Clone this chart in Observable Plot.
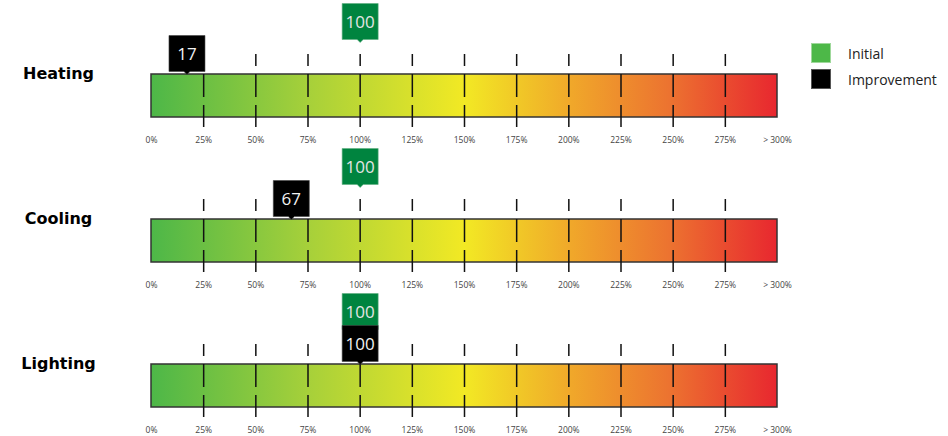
<!DOCTYPE html>
<html>
<head>
<meta charset="utf-8">
<script src="https://cdn.jsdelivr.net/npm/d3@7"></script>
<script src="https://cdn.jsdelivr.net/npm/@observablehq/plot@0.6"></script>
<style>
  body { margin: 0; background: #fff; }
  #wrap { position: relative; width: 948px; height: 436px; }
  #legend { position: absolute; left: 811px; top: 43px; font-family: "Open Sans", sans-serif; font-size: 14px; color: #222; }
  .lg-row { display: flex; align-items: center; height: 20px; margin-bottom: 6px; }
  .lg-sw { width: 18px; height: 18px; margin-right: 17px; box-sizing: content-box; }
</style>
</head>
<body>
<div id="wrap"></div>
<script>
// ---- data ----
const categories = ["Heating", "Cooling", "Lighting"];
const initialValues = [100, 100, 100];
const improvementValues = [17, 67, 100];
const tickValues = [0, 25, 50, 75, 100, 125, 150, 175, 200, 225, 250, 275, 300];
const tickLabels = ["0%", "25%", "50%", "75%", "100%", "125%", "150%", "175%", "200%", "225%", "250%", "275%", "> 300%"];
const scaleExtent = [0, 300];
const seriesNames = ["Initial", "Improvement"];

// ---- derived tables ----
const bars = categories.map(c => ({category: c, x1: scaleExtent[0], x2: scaleExtent[1]}));
const tickTable = categories.flatMap(c => tickValues.map((v, i) => ({category: c, value: v, label: tickLabels[i]})));
const innerTicks = tickTable.filter(d => d.value > scaleExtent[0] && d.value < scaleExtent[1]);
const initialTable = categories.map((c, i) => ({category: c, value: initialValues[i]}));
const improvementTable = categories.map((c, i) => ({category: c, value: improvementValues[i]}));

// ---- styles ----
const colors = {initial: "#00843f", improvement: "#000000", legendInitial: "#4db848"};
const callout = {
  draw(ctx) {
    const w = 18, h = 18, p = 3;
    ctx.moveTo(-w, -h); ctx.lineTo(w, -h); ctx.lineTo(w, h);
    ctx.lineTo(p, h); ctx.lineTo(0, h + p); ctx.lineTo(-p, h);
    ctx.lineTo(-w, h); ctx.closePath();
  }
};

const chart = Plot.plot({
  width: 948,
  height: 436,
  marginLeft: 151,
  marginRight: 171,
  marginTop: 0,
  marginBottom: 1,
  style: {fontFamily: "Open Sans, sans-serif", background: "white", overflow: "visible"},
  x: {domain: scaleExtent, axis: null},
  fy: {domain: categories, axis: null, padding: 0},
  marks: [
    Plot.text(categories, {
      fy: d => d, text: d => d, frameAnchor: "top-left", dx: -93, dy: 73,
      textAnchor: "middle", lineAnchor: "middle",
      fontFamily: "DejaVu Sans", fontWeight: "bold", fontSize: 16, fill: "#000"
    }),
    Plot.rect(bars, {
      fy: "category", x1: "x1", x2: "x2", insetTop: 74, insetBottom: 28,
      fill: "url(#energyGrad)", stroke: "#333", strokeWidth: 1.5
    }),
    Plot.ruleX(innerTicks, {
      fy: "category", x: "value", insetTop: 54, insetBottom: 18,
      stroke: "#111", strokeWidth: 1.5, strokeDasharray: "23,8", strokeDashoffset: 11
    }),
    Plot.text(tickTable, {
      fy: "category", x: "value", text: "label", frameAnchor: "top", dy: 140,
      lineAnchor: "middle", fontSize: 8.5, fill: "#444"
    }),
    Plot.dot(initialTable, {
      fy: "category", x: "value", frameAnchor: "top", dy: 21,
      symbol: callout, r: 10, fill: colors.initial, stroke: "#5fae80", strokeWidth: 0.6
    }),
    Plot.text(initialTable, {
      fy: "category", x: "value", text: d => String(d.value), frameAnchor: "top", dy: 22,
      lineAnchor: "middle", fontSize: 17, fill: "#e4e4e4"
    }),
    Plot.dot(improvementTable, {
      fy: "category", x: "value", frameAnchor: "top", dy: 53,
      symbol: callout, r: 10, fill: colors.improvement, stroke: "#444", strokeWidth: 0.6
    }),
    Plot.text(improvementTable, {
      fy: "category", x: "value", text: d => String(d.value), frameAnchor: "top", dy: 54,
      lineAnchor: "middle", fontSize: 17, fill: "#f2f2f2"
    })
  ]
});

// gradient definition for the bars
const defs = d3.select(chart).insert("defs", ":first-child");
const grad = defs.append("linearGradient").attr("id", "energyGrad")
  .attr("x1", "0%").attr("x2", "100%").attr("y1", "0%").attr("y2", "0%");
[["0%", "#4db748"], ["25%", "#a6d03a"], ["50%", "#f2e924"], ["67%", "#f0a82a"], ["83%", "#ec7230"], ["100%", "#e8272f"]]
  .forEach(([o, c]) => grad.append("stop").attr("offset", o).attr("stop-color", c));

const wrap = document.getElementById("wrap");
wrap.appendChild(chart);

// legend
const legend = document.createElement("div");
legend.id = "legend";
const swatchColors = [colors.legendInitial, colors.improvement];
const swatchBorders = ["#9fd89b", "#555"];
seriesNames.forEach((name, i) => {
  const row = document.createElement("div");
  row.className = "lg-row";
  const sw = document.createElement("div");
  sw.className = "lg-sw";
  sw.style.background = swatchColors[i];
  sw.style.border = "1px solid " + swatchBorders[i];
  const label = document.createElement("span");
  label.textContent = name;
  row.appendChild(sw);
  row.appendChild(label);
  legend.appendChild(row);
});
wrap.appendChild(legend);
</script>
</body>
</html>
